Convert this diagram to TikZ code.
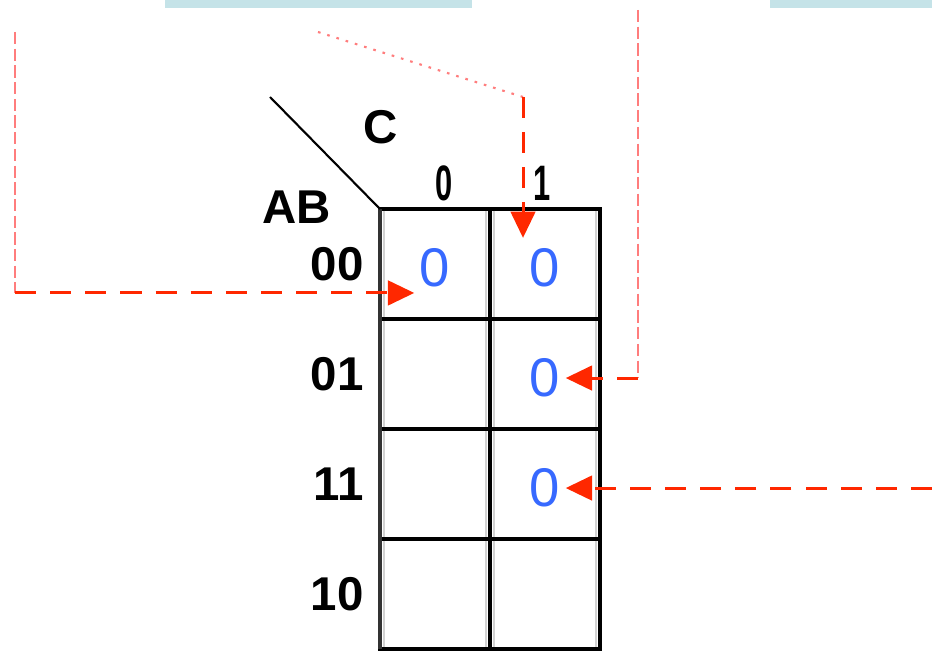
\documentclass[tikz,border=0pt]{standalone}
\usepackage{fontspec}
\setmainfont{Liberation Sans}
\usetikzlibrary{arrows.meta}
\definecolor{kblue}{RGB}{55,105,255}
\definecolor{kred}{RGB}{255,40,0}
\definecolor{kpale}{RGB}{255,125,125}
\definecolor{kband}{RGB}{197,227,232}
\begin{document}
\begin{tikzpicture}[x=.02cm,y=-.02cm,
  cell/.style={draw,line width=2pt,minimum size=2.2cm,inner sep=0pt,outer sep=0pt},
  val/.style={text=kblue,font=\fontsize{31}{31}\selectfont,inner sep=3pt,yshift=-2.3pt},
  lbl/.style={font=\bfseries\fontsize{27}{27}\selectfont,inner sep=0pt},
  hot/.style={kred,line width=1.7pt,dash pattern=on 12pt off 8pt},
  hotarr/.style={hot,-{Triangle[length=15pt,width=14pt]}},
  pale/.style={kpale,line width=1pt,dash pattern=on 7pt off 2.5pt},
  dots/.style={kpale,line width=1.2pt,dash pattern=on 1.5pt off 4pt}]
  \useasboundingbox (0,0) rectangle (932,651);
  \fill[kband] (165,0) rectangle (472,8);
  \fill[kband] (770,0) rectangle (932,8);
  \foreach \r [count=\i from 0] in {00,01,11,10}{
    \foreach \col in {0,1}{
      \node[cell] (c\r-\col) at (435+110*\col,264+110*\i) {};
      \draw[gray!35,line width=1.2pt] ([shift={(2.4pt,-1pt)}]c\r-\col.north west)
        -- ([shift={(2.4pt,1pt)}]c\r-\col.south west);
      \draw[gray!35,line width=1.2pt] ([shift={(-2.4pt,-1pt)}]c\r-\col.north east)
        -- ([shift={(-2.4pt,1pt)}]c\r-\col.south east);
    }
    \node[lbl,anchor=east] (r\r) at (364,264+110*\i) {\r};
  }
  \draw[black!80,line width=2.8pt] (c00-0.north west) -- (c10-0.south west);
  \coordinate (dg) at (270,97);
  \draw[line width=1.2pt] (dg) -- (c00-0.north west);
  \node[lbl] (cvar) at (381,127) {C};
  \node[lbl] (abvar) at (297,207) {AB};
  \node[lbl] (k0) at (444,183) {\scalebox{.65}[1.05]{0}};
  \node[lbl] (k1) at (542,183) {\scalebox{.65}[1.05]{1}};
  \node[val] (v00-0) at (c00-0) {0};
  \node[val] (v00-1) at (c00-1) {0};
  \node[val] (v01-1) at (c01-1) {0};
  \node[val] (v11-1) at (c11-1) {0};
  \coordinate (aL) at (15,32);
  \coordinate (aLk) at (aL |- v00-0.south west);
  \draw[pale] (aL) -- (aLk);
  \draw[hotarr] (aLk) -- (v00-0.south west);
  \coordinate (aT) at (318,32);
  \coordinate (aTk) at (523,97);
  \draw[dots] (aT) -- (aTk);
  \draw[hotarr,shorten >=3pt] (aTk) -- (aTk |- v00-1.north);
  \coordinate (aR) at (638,10);
  \coordinate (aRk) at (aR |- v01-1.east);
  \draw[pale] (aR) -- (aRk);
  \draw[hotarr] (aRk) -- (v01-1.east);
  \coordinate (aB) at (932,0);
  \draw[hotarr] (aB |- v11-1.east) -- (v11-1.east);
\end{tikzpicture}
\end{document}
